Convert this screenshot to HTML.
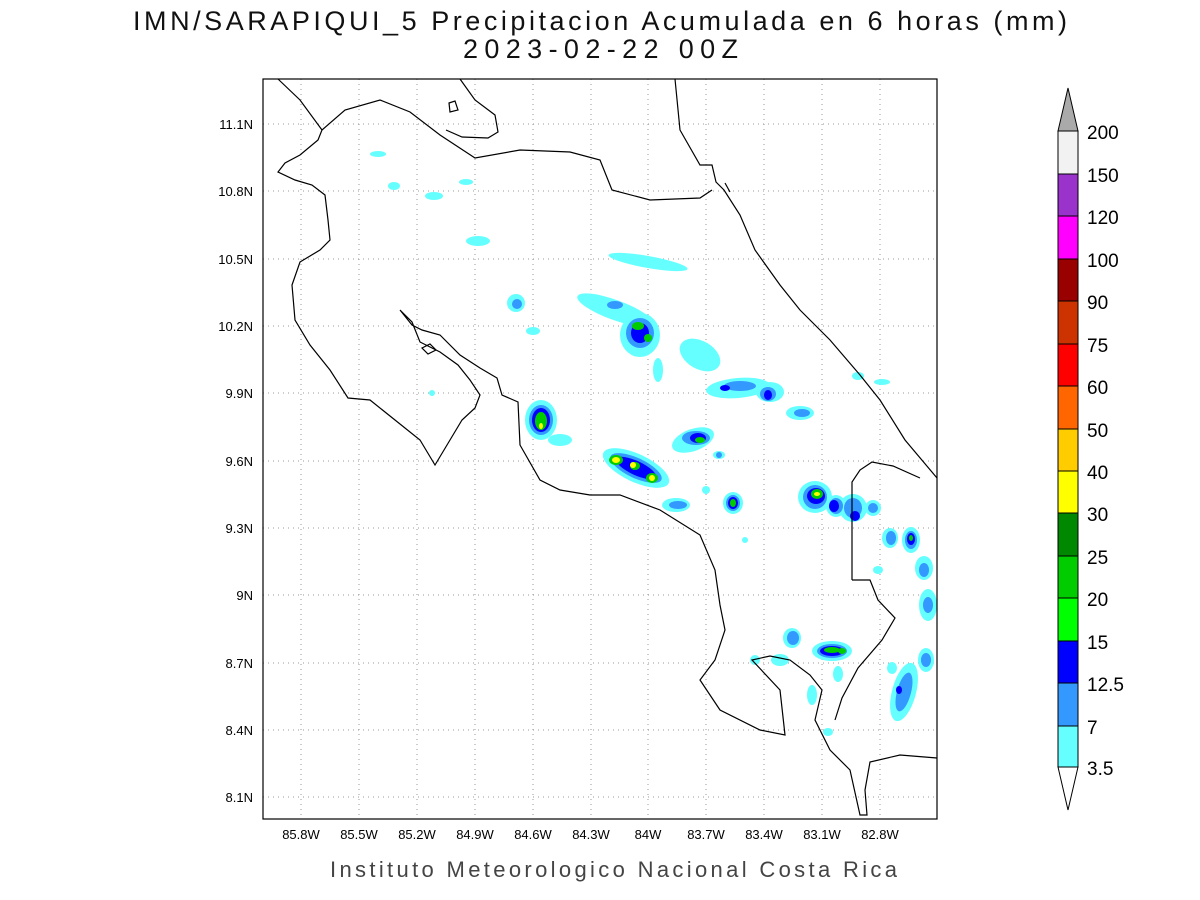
<!DOCTYPE html>
<html><head><meta charset="utf-8"><style>
html,body{margin:0;padding:0;background:#fff;}
svg{display:block;font-family:"Liberation Sans",sans-serif;}
</style></head><body>
<svg width="1200" height="900" viewBox="0 0 1200 900" xmlns="http://www.w3.org/2000/svg">
<rect width="1200" height="900" fill="#fff"/>
<text x="133" y="30" font-size="27" fill="#111" textLength="934" lengthAdjust="spacing">IMN/SARAPIQUI_5 Precipitacion Acumulada en 6 horas (mm)</text>
<text x="463" y="58" font-size="27" fill="#111" textLength="275" lengthAdjust="spacing">2023-02-22 00Z</text>

<g stroke="#999" stroke-width="1" stroke-dasharray="1,4">
<line x1="301" y1="79" x2="301" y2="819"/><line x1="359" y1="79" x2="359" y2="819"/><line x1="417" y1="79" x2="417" y2="819"/><line x1="475" y1="79" x2="475" y2="819"/><line x1="533" y1="79" x2="533" y2="819"/><line x1="591" y1="79" x2="591" y2="819"/><line x1="648" y1="79" x2="648" y2="819"/><line x1="706" y1="79" x2="706" y2="819"/><line x1="764" y1="79" x2="764" y2="819"/><line x1="822" y1="79" x2="822" y2="819"/><line x1="880" y1="79" x2="880" y2="819"/>
<line x1="263" y1="124" x2="937" y2="124"/><line x1="263" y1="191" x2="937" y2="191"/><line x1="263" y1="259" x2="937" y2="259"/><line x1="263" y1="326" x2="937" y2="326"/><line x1="263" y1="393" x2="937" y2="393"/><line x1="263" y1="461" x2="937" y2="461"/><line x1="263" y1="528" x2="937" y2="528"/><line x1="263" y1="595" x2="937" y2="595"/><line x1="263" y1="663" x2="937" y2="663"/><line x1="263" y1="730" x2="937" y2="730"/><line x1="263" y1="797" x2="937" y2="797"/>
</g>

<g>
<g fill="#66ffff">
<ellipse cx="378" cy="154" rx="8" ry="3"/><ellipse cx="394" cy="186" rx="6" ry="4"/><ellipse cx="434" cy="196" rx="9" ry="4"/><ellipse cx="466" cy="182" rx="7" ry="3"/><ellipse cx="478" cy="241" rx="12" ry="5"/><ellipse cx="648" cy="262" rx="40" ry="6" transform="rotate(10 648 262)"/><ellipse cx="516" cy="303" rx="9" ry="9"/><ellipse cx="533" cy="331" rx="7" ry="4"/>
<ellipse cx="615" cy="310" rx="40" ry="10" transform="rotate(20 615 310)"/><ellipse cx="640" cy="335" rx="20" ry="22"/><ellipse cx="700" cy="355" rx="22" ry="14" transform="rotate(30 700 355)"/><ellipse cx="658" cy="370" rx="5" ry="12"/>
<ellipse cx="738" cy="388" rx="32" ry="10" transform="rotate(-5 738 388)"/><ellipse cx="770" cy="392" rx="14" ry="10"/><ellipse cx="800" cy="413" rx="14" ry="7"/><ellipse cx="858" cy="376" rx="6" ry="4"/><ellipse cx="882" cy="382" rx="8" ry="3"/>
<ellipse cx="541" cy="420" rx="16" ry="20"/><ellipse cx="560" cy="440" rx="12" ry="6"/><ellipse cx="432" cy="393" rx="3" ry="3"/>
<ellipse cx="693" cy="440" rx="22" ry="11" transform="rotate(-20 693 440)"/><ellipse cx="636" cy="468" rx="36" ry="14" transform="rotate(25 636 468)"/><ellipse cx="676" cy="505" rx="14" ry="7"/><ellipse cx="719" cy="455" rx="6" ry="4"/><ellipse cx="733" cy="503" rx="10" ry="11"/><ellipse cx="706" cy="490" rx="4" ry="4"/>
<ellipse cx="815" cy="497" rx="17" ry="16"/><ellipse cx="836" cy="506" rx="10" ry="11"/><ellipse cx="853" cy="508" rx="14" ry="14"/><ellipse cx="873" cy="508" rx="8" ry="8"/><ellipse cx="890" cy="538" rx="8" ry="10"/><ellipse cx="911" cy="540" rx="9" ry="13"/><ellipse cx="924" cy="568" rx="9" ry="12"/><ellipse cx="928" cy="605" rx="9" ry="16"/><ellipse cx="878" cy="570" rx="5" ry="4"/>
<ellipse cx="792" cy="638" rx="9" ry="10"/><ellipse cx="780" cy="660" rx="9" ry="6"/><ellipse cx="832" cy="651" rx="20" ry="10"/><ellipse cx="838" cy="674" rx="5" ry="8"/><ellipse cx="755" cy="660" rx="5" ry="5"/>
<ellipse cx="904" cy="692" rx="12" ry="30" transform="rotate(15 904 692)"/><ellipse cx="926" cy="660" rx="8" ry="12"/><ellipse cx="892" cy="668" rx="5" ry="6"/><ellipse cx="812" cy="695" rx="5" ry="10"/><ellipse cx="828" cy="732" rx="5" ry="4"/><ellipse cx="745" cy="540" rx="3" ry="3"/>
</g>
<g fill="#3399ff">
<ellipse cx="517" cy="304" rx="5" ry="5"/><ellipse cx="615" cy="305" rx="8" ry="4"/><ellipse cx="640" cy="333" rx="14" ry="15"/><ellipse cx="740" cy="386" rx="16" ry="5"/><ellipse cx="768" cy="394" rx="8" ry="7"/><ellipse cx="802" cy="413" rx="8" ry="4"/>
<ellipse cx="541" cy="420" rx="12" ry="15"/><ellipse cx="696" cy="438" rx="14" ry="7"/><ellipse cx="636" cy="468" rx="28" ry="10" transform="rotate(25 636 468)"/><ellipse cx="678" cy="505" rx="9" ry="4"/><ellipse cx="733" cy="503" rx="7" ry="8"/><ellipse cx="719" cy="455" rx="3" ry="3"/>
<ellipse cx="815" cy="497" rx="12" ry="12"/><ellipse cx="836" cy="506" rx="7" ry="8"/><ellipse cx="853" cy="508" rx="9" ry="10"/><ellipse cx="873" cy="508" rx="5" ry="5"/><ellipse cx="891" cy="538" rx="5" ry="7"/><ellipse cx="911" cy="540" rx="6" ry="9"/><ellipse cx="924" cy="570" rx="5" ry="7"/><ellipse cx="928" cy="605" rx="5" ry="8"/>
<ellipse cx="793" cy="638" rx="6" ry="7"/><ellipse cx="832" cy="651" rx="15" ry="7"/><ellipse cx="904" cy="692" rx="7" ry="20" transform="rotate(15 904 692)"/><ellipse cx="926" cy="660" rx="5" ry="7"/>
</g>
<g fill="#0000ff">
<ellipse cx="640" cy="333" rx="9" ry="10"/><ellipse cx="725" cy="388" rx="5" ry="3"/><ellipse cx="768" cy="395" rx="4" ry="5"/><ellipse cx="541" cy="420" rx="9" ry="12"/><ellipse cx="698" cy="438" rx="8" ry="5"/><ellipse cx="636" cy="468" rx="22" ry="7" transform="rotate(25 636 468)"/><ellipse cx="733" cy="503" rx="5" ry="6"/><ellipse cx="816" cy="496" rx="9" ry="8"/><ellipse cx="834" cy="506" rx="5" ry="6"/><ellipse cx="855" cy="516" rx="5" ry="5"/><ellipse cx="911" cy="539" rx="4" ry="6"/><ellipse cx="832" cy="651" rx="12" ry="5"/><ellipse cx="899" cy="690" rx="3" ry="4"/>
</g>
<g fill="#00cc00">
<ellipse cx="638" cy="326" rx="6" ry="4"/><ellipse cx="648" cy="338" rx="4" ry="4"/><ellipse cx="541" cy="421" rx="6" ry="9"/><ellipse cx="700" cy="440" rx="5" ry="3"/><ellipse cx="616" cy="460" rx="7" ry="5"/><ellipse cx="635" cy="466" rx="5" ry="4"/><ellipse cx="652" cy="478" rx="6" ry="5"/><ellipse cx="733" cy="503" rx="3" ry="4"/><ellipse cx="817" cy="494" rx="6" ry="5"/><ellipse cx="832" cy="650" rx="8" ry="3"/><ellipse cx="842" cy="651" rx="4" ry="3"/><ellipse cx="911" cy="538" rx="2" ry="3"/>
</g>
<g fill="#ffff00">
<ellipse cx="616" cy="460" rx="4" ry="3"/><ellipse cx="633" cy="465" rx="3" ry="3"/><ellipse cx="652" cy="478" rx="3" ry="3"/><ellipse cx="817" cy="494" rx="3" ry="2"/><ellipse cx="541" cy="426" rx="2" ry="3"/>
</g>
</g>

<g fill="none" stroke="#000" stroke-width="1.2">
<polyline points="278,79 300,100 322,130 318,140 300,155 285,163 278,172 295,180 312,185 325,195 328,220 330,240 320,250 300,262 292,285 295,320 310,345 330,370 348,398 370,400 395,420 420,440 435,465 450,440 462,420 475,408 480,395 470,380 458,365 440,352 420,342 412,322 400,310 412,325 422,330 440,335 460,355 480,368 497,378 502,395 518,402 520,445 540,480 560,490 590,495 620,495 660,510 700,535 715,570 720,605 725,630 715,660 700,680 720,710 760,730 785,735 780,690 752,660 770,656 790,660 810,675 822,690 815,720 830,750 850,770 860,815 867,815 865,790 870,762 900,755 937,758"/>
<polyline points="322,130 345,110 380,100 410,112 440,135 475,158 520,150 570,152 600,160 612,190 650,200 700,198 712,190"/>
<polyline points="675,79 680,130 700,165 712,165 716,182 724,190 740,215 755,250 780,285 800,310 830,340 860,375 880,400 905,440 937,478"/>
<polyline points="460,79 475,100 495,115 498,132 488,138 462,137 446,130"/>
<polygon points="449,103 455,101 458,110 450,112"/>
<polygon points="422,348 430,344 436,350 428,354"/>
<polyline points="852,580 852,482 860,470 872,462 893,466 920,478"/>
<polyline points="852,580 870,580 878,600 895,618 882,640 858,668 842,698 835,720"/>
<line x1="725" y1="183" x2="730" y2="192"/>
</g>
<rect x="263" y="79" width="674" height="740" fill="none" stroke="#000" stroke-width="1.2"/>

<g font-size="13" fill="#000" text-anchor="middle">
<text x="301" y="839">85.8W</text><text x="359" y="839">85.5W</text><text x="417" y="839">85.2W</text><text x="475" y="839">84.9W</text><text x="533" y="839">84.6W</text><text x="591" y="839">84.3W</text><text x="648" y="839">84W</text><text x="706" y="839">83.7W</text><text x="764" y="839">83.4W</text><text x="822" y="839">83.1W</text><text x="880" y="839">82.8W</text>
</g>
<g font-size="13" fill="#000" text-anchor="end">
<text x="253" y="129">11.1N</text><text x="253" y="196">10.8N</text><text x="253" y="264">10.5N</text><text x="253" y="331">10.2N</text><text x="253" y="398">9.9N</text><text x="253" y="466">9.6N</text><text x="253" y="533">9.3N</text><text x="253" y="600">9N</text><text x="253" y="668">8.7N</text><text x="253" y="735">8.4N</text><text x="253" y="802">8.1N</text>
</g>
<text x="330" y="877" font-size="22" fill="#444" textLength="567" lengthAdjust="spacing">Instituto Meteorologico Nacional Costa Rica</text>

<g stroke="#000" stroke-width="1">
<polygon points="1058,131 1078,131 1068,88" fill="#aaaaaa"/>
<rect x="1058" y="131" width="20" height="43" fill="#f2f2f2"/>
<rect x="1058" y="174" width="20" height="42" fill="#9933cc"/>
<rect x="1058" y="216" width="20" height="43" fill="#ff00ff"/>
<rect x="1058" y="259" width="20" height="42" fill="#990000"/>
<rect x="1058" y="301" width="20" height="43" fill="#cc3300"/>
<rect x="1058" y="344" width="20" height="42" fill="#ff0000"/>
<rect x="1058" y="386" width="20" height="43" fill="#ff6600"/>
<rect x="1058" y="429" width="20" height="42" fill="#ffcc00"/>
<rect x="1058" y="471" width="20" height="42" fill="#ffff00"/>
<rect x="1058" y="513" width="20" height="43" fill="#008800"/>
<rect x="1058" y="556" width="20" height="42" fill="#00cc00"/>
<rect x="1058" y="598" width="20" height="43" fill="#00ff00"/>
<rect x="1058" y="641" width="20" height="42" fill="#0000ff"/>
<rect x="1058" y="683" width="20" height="43" fill="#3399ff"/>
<rect x="1058" y="726" width="20" height="41" fill="#66ffff"/>
<polygon points="1058,767 1078,767 1068,810" fill="#ffffff"/>
</g>
<g font-size="19" fill="#000">
<text x="1087" y="139">200</text><text x="1087" y="182">150</text><text x="1087" y="224">120</text><text x="1087" y="267">100</text><text x="1087" y="309">90</text><text x="1087" y="352">75</text><text x="1087" y="394">60</text><text x="1087" y="437">50</text><text x="1087" y="479">40</text><text x="1087" y="521">30</text><text x="1087" y="564">25</text><text x="1087" y="606">20</text><text x="1087" y="649">15</text><text x="1087" y="691">12.5</text><text x="1087" y="734">7</text><text x="1087" y="775">3.5</text>
</g>
</svg>
</body></html>
